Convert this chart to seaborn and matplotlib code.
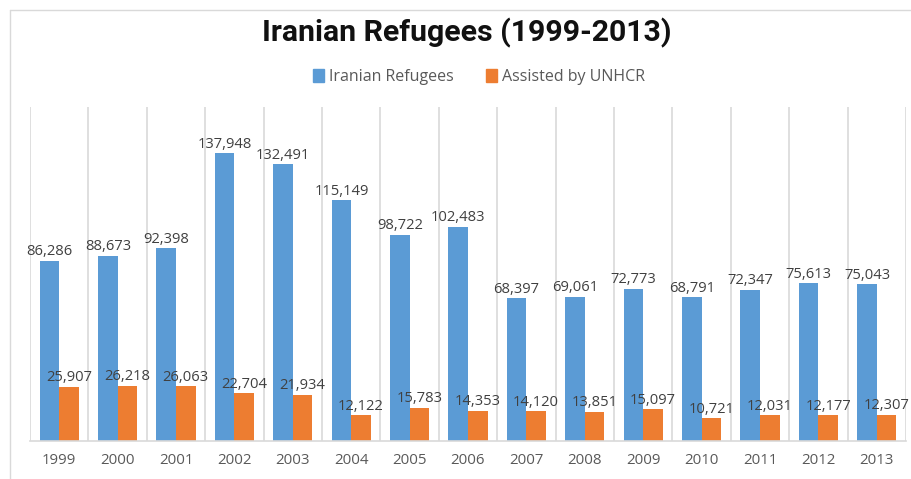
import matplotlib
matplotlib.use("Agg")
import matplotlib.pyplot as plt
from matplotlib.lines import Line2D
from matplotlib.ticker import FixedLocator
import numpy as np
import pandas as pd
import seaborn as sns

years = ["1999", "2000", "2001", "2002", "2003", "2004", "2005", "2006",
         "2007", "2008", "2009", "2010", "2011", "2012", "2013"]
iranian_refugees = [86286, 88673, 92398, 137948, 132491, 115149, 98722, 102483,
                    68397, 69061, 72773, 68791, 72347, 75613, 75043]
assisted_by_unhcr = [25907, 26218, 26063, 22704, 21934, 12122, 15783, 14353,
                     14120, 13851, 15097, 10721, 12031, 12177, 12307]
series_names = ["Iranian Refugees", "Assisted by UNHCR"]
colors = ["#5B9BD5", "#ED7D31"]

df = pd.DataFrame({
    "Year": years * 2,
    "Count": iranian_refugees + assisted_by_unhcr,
    "Series": [series_names[0]] * len(years) + [series_names[1]] * len(years),
})

sns.set_theme(style="white")
plt.rcParams["font.family"] = ["Open Sans", "DejaVu Sans"]

fig = plt.figure(figsize=(9.12, 4.79), dpi=100)
ax = fig.add_axes([30 / 912, 1 - 440.5 / 479, 876 / 912, (440.5 - 107) / 479])

sns.barplot(data=df, x="Year", y="Count", hue="Series", palette=colors,
            width=0.67, gap=0, saturation=1, ax=ax, legend=False,
            edgecolor="none", linewidth=0)

ax.set_ylim(0, 160000)
ax.set_xlim(-0.5, len(years) - 0.5)

for container in ax.containers:
    ax.bar_label(container, labels=[f"{v:,.0f}" for v in container.datavalues],
                 padding=1, fontsize=10.6, color="#404040")

# category separators
ax.xaxis.set_minor_locator(FixedLocator(np.arange(-0.5, len(years), 1.0)))
ax.grid(False)
ax.grid(True, which="minor", axis="x", color="#D9D9D9", linewidth=1.2)
ax.set_axisbelow(True)

for side in ["top", "right", "left"]:
    ax.spines[side].set_visible(False)
ax.spines["bottom"].set_color("#D9D9D9")
ax.spines["bottom"].set_linewidth(1.2)

ax.set_yticks([])
ax.set_xlabel("")
ax.set_ylabel("")
ax.tick_params(axis="x", which="both", length=0, pad=9, labelsize=10.8,
               labelcolor="#595959")

# chart frame
fig.add_artist(Line2D([10 / 912, 10 / 912], [0, 1 - 10 / 479],
                      transform=fig.transFigure, color="#D9D9D9", linewidth=1))
fig.add_artist(Line2D([10 / 912, 1], [1 - 10 / 479, 1 - 10 / 479],
                      transform=fig.transFigure, color="#D9D9D9", linewidth=1))

fig.text(467 / 912, 1 - 33 / 479, "Iranian Refugees (1999-2013)",
         ha="center", va="center", fontsize=21.8, fontweight="bold",
         color="#111111", family=["Roboto", "DejaVu Sans"])

handles = [plt.Rectangle((0, 0), 1, 1, color=c) for c in colors]
fig.legend(handles, series_names, loc="center", bbox_to_anchor=(479 / 912, 1 - 77 / 479),
           ncol=2, frameon=False, fontsize=11.5, handlelength=0.7, handleheight=0.9,
           handletextpad=0.3, columnspacing=2.0, labelcolor="#595959")

fig.savefig("out.png", dpi=100, facecolor="white")
